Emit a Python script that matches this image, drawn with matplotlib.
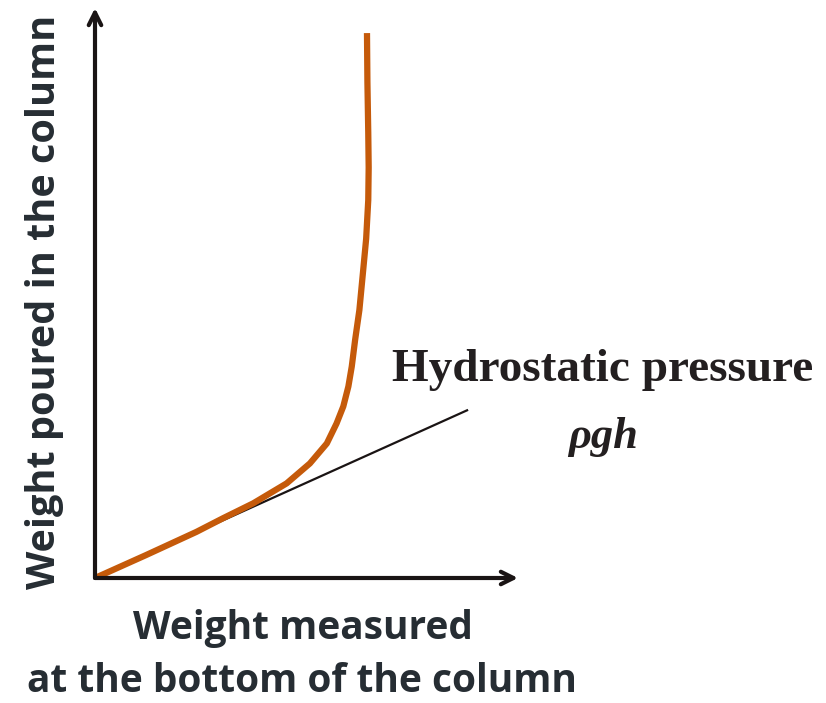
import numpy as np
import matplotlib.pyplot as plt

# data (axis length = 10 units both ways)
curve_x = [0, 1.2, 2.40, 3.03, 3.74, 4.53, 5.08, 5.48, 5.71, 5.87, 5.99, 6.07,
           6.15, 6.25, 6.34, 6.41, 6.46, 6.47, 6.46, 6.44, 6.43]
curve_y = [0, 0.40, 0.81, 1.05, 1.31, 1.66, 2.01, 2.36, 2.71, 3.01, 3.36, 3.71,
           4.18, 4.70, 5.40, 5.95, 6.63, 7.2, 7.81, 8.7, 9.56]
line_x = [0, 8.82]
line_y = [0, 2.95]

label_col = '#262d33'

fig = plt.figure(figsize=(8.26, 7.03), dpi=100)
ax = fig.add_axes([95/826, 125/703, 423/826, 570/703])
ax.set_xlim(0, 10)
ax.set_ylim(0, 10)
ax.axis('off')

# axes with arrow heads
arrow = dict(arrowstyle='->,head_length=0.9,head_width=0.45', lw=3, color='#1a1414',
             shrinkA=0, shrinkB=0)
ax.annotate('', xy=(10, 0), xytext=(0, 0), annotation_clip=False, arrowprops=arrow)
ax.annotate('', xy=(0, 10), xytext=(0, 0), annotation_clip=False, arrowprops=arrow)

ax.plot(line_x, line_y, color='#1a1414', lw=1.6, solid_capstyle='butt')
ax.plot(curve_x, curve_y, color='#c55a0a', lw=4.5, solid_capstyle='butt',
        solid_joinstyle='round')

ax.text(12.0, 3.65, 'Hydrostatic pressure', family='Liberation Serif', weight='bold',
        fontsize=34, color='#231f20', ha='center', va='center', clip_on=False)
ax.text(12.0, 2.47, 'ρgh', family='Liberation Serif', weight='bold', style='italic',
        fontsize=32, color='#231f20', ha='center', va='center', clip_on=False)

fig.text(45/826, 1 - 302/703, 'Weight poured in the column', rotation=90, family='Open Sans',
         weight='bold', fontsize=28.5, color=label_col, ha='center', va='center')
fig.text(303/826, 1 - 628/703, 'Weight measured', family='Open Sans',
         weight='bold', fontsize=28, color=label_col, ha='center', va='center')
fig.text(302/826, 1 - 682/703, 'at the bottom of the column', family='Open Sans',
         weight='bold', fontsize=28, color=label_col, ha='center', va='center')

fig.savefig('out.png', dpi=100)
